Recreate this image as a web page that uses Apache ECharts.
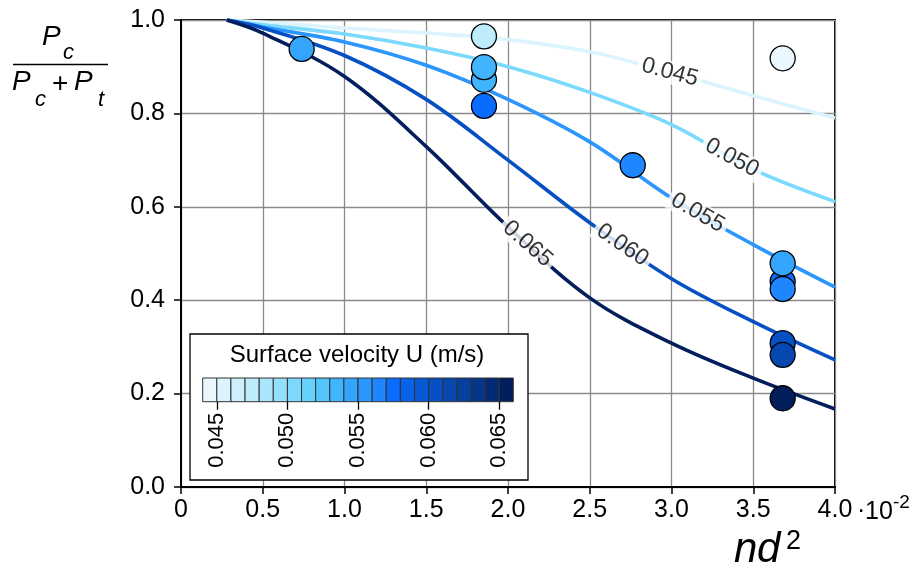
<!DOCTYPE html>
<html><head><meta charset="utf-8">
<script src="https://cdn.jsdelivr.net/npm/echarts@6/dist/echarts.min.js"></script>
<style>html,body{margin:0;padding:0;background:#fff}#c{width:924px;height:570px}</style>
</head><body><div id="c"></div>
<script>
// ---------- data ----------
const curveX   = [0.28, 0.5, 1.0, 1.5, 2.0, 2.5, 3.0, 3.5, 4.0];
const levels    = [0.045, 0.050, 0.055, 0.060, 0.065];
const levelText = ['0.045', '0.050', '0.055', '0.060', '0.065'];
const curve045 = [1.0, 0.995, 0.983, 0.972, 0.958, 0.932, 0.887, 0.838, 0.790];
const curve050 = [1.0, 0.990, 0.970, 0.940, 0.900, 0.845, 0.776, 0.680, 0.611];
const curve055 = [1.0, 0.985, 0.953, 0.903, 0.830, 0.739, 0.619, 0.519, 0.428];
const curve060 = [1.0, 0.983, 0.924, 0.830, 0.700, 0.566, 0.446, 0.354, 0.272];
const curve065 = [1.0, 0.972, 0.879, 0.729, 0.557, 0.405, 0.308, 0.233, 0.167];
const labelX   = [2.99, 3.37, 3.16, 2.70, 2.12];

const pointX = [0.738, 1.853, 1.853, 1.853, 1.853, 2.763, 3.68, 3.68, 3.68, 3.68, 3.68, 3.68, 3.68];
const pointY = [0.938, 0.965, 0.872, 0.899, 0.816, 0.689, 0.918, 0.440, 0.479, 0.424, 0.308, 0.283, 0.190];
const pointU = [0.0545, 0.0475, 0.0535, 0.0535, 0.0575, 0.0565, 0.0445, 0.0575, 0.0545, 0.0565, 0.0605, 0.0615, 0.0655];

const uStart = 0.044, uStep = 0.001;
const cellColors = ['#eaf8fe','#dcf4fd','#cdf0fc','#bdecfc','#a9e6fc','#93e0fc','#7ad9fc','#66d1fd',
  '#53c5fd','#40b5fd','#34a5fd','#2a96fe','#1e86fe','#0a6cff','#0a62e8','#0858d4','#0650c4',
  '#0648b0','#053fa0','#04368c','#032a74','#021e5c'];
const barTicks = [0.045, 0.050, 0.055, 0.060, 0.065];

// ---------- helpers ----------
const curves = [curve045, curve050, curve055, curve060, curve065];
const FONT = "'Liberation Sans', Arial, Helvetica, sans-serif";
function colorOf(u) {
  let i = Math.floor((u - uStart) / uStep + 1e-6);
  return cellColors[Math.max(0, Math.min(cellColors.length - 1, i))];
}
function interp(ys, x) {
  for (let i = 0; i < curveX.length - 1; i++) {
    if (x >= curveX[i] && x <= curveX[i + 1]) {
      const t = (x - curveX[i]) / (curveX[i + 1] - curveX[i]);
      return ys[i] + t * (ys[i + 1] - ys[i]);
    }
  }
  return ys[ys.length - 1];
}

const chart = echarts.init(document.getElementById('c'), null, {renderer: 'canvas'});

const lineSeries = curves.map((ys, k) => ({
  type: 'line', xAxisIndex: 0, yAxisIndex: 0,
  data: curveX.map((x, i) => [x, ys[i]]),
  smooth: 0.35, symbol: 'none',
  lineStyle: {color: colorOf(levels[k]), width: 3.6},
  z: 2, silent: true
}));

function labelData(angles) {
  return levels.map((lv, i) => ({
    value: [labelX[i], interp(curves[i], labelX[i])],
    label: {formatter: levelText[i], rotate: angles ? angles[i] : 0}
  }));
}

const txt = (x, y, text, font) => ({type: 'text', x: x, y: y, z: 11,
  style: {text: text, font: font, fill: '#000', textVerticalAlign: 'middle', verticalAlign: 'middle'}});

const option = {
  animation: false,
  textStyle: {fontFamily: FONT},
  grid: [
    {left: 181, top: 20, right: 89, bottom: 83, show: true, borderColor: '#000', borderWidth: 2, backgroundColor: 'transparent'},
    {left: 202.7, top: 378, width: 310.6, height: 23.7}
  ],
  xAxis: [
    {gridIndex: 0, type: 'value', min: 0, max: 4, interval: 0.5,
     axisLine: {show: true, lineStyle: {color: '#000', width: 2}},
     axisTick: {show: true, length: 7, lineStyle: {color: '#000', width: 1.5}},
     axisLabel: {fontSize: 25, color: '#000', margin: 11, fontFamily: FONT,
                 formatter: v => v === 0 ? '0' : v.toFixed(1)},
     splitLine: {show: true, lineStyle: {color: '#8a8a8a', width: 1.3}}},
    {gridIndex: 1, type: 'value', min: 0.044, max: 0.066, z: 10,
     axisLine: {show: false},
     axisTick: {show: true, length: 8, customValues: barTicks, lineStyle: {color: '#000', width: 1.3}},
     axisLabel: {show: true, customValues: barTicks, rotate: 90, fontSize: 22, color: '#000', margin: 11,
                 fontFamily: FONT, formatter: v => v.toFixed(3)},
     splitLine: {show: false}}
  ],
  yAxis: [
    {gridIndex: 0, type: 'value', min: 0, max: 1, interval: 0.2,
     axisLine: {show: true, lineStyle: {color: '#000', width: 2}},
     axisTick: {show: true, length: 7, lineStyle: {color: '#000', width: 1.5}},
     axisLabel: {fontSize: 25, color: '#000', margin: 16, fontFamily: FONT, formatter: v => v.toFixed(1)},
     splitLine: {show: true, lineStyle: {color: '#8a8a8a', width: 1.3}}},
    {gridIndex: 1, type: 'value', min: 0, max: 1, show: false}
  ],
  series: [
    ...lineSeries,
    {type: 'scatter', xAxisIndex: 0, yAxisIndex: 0, z: 3, silent: true,
     symbol: 'circle', symbolSize: 1, itemStyle: {color: 'rgba(0,0,0,0)'},
     label: {show: true, position: 'inside', fontSize: 23, color: '#000', fontFamily: FONT,
             backgroundColor: '#fff', padding: [0, 4]},
     data: labelData(null)},
    {type: 'scatter', xAxisIndex: 0, yAxisIndex: 0, z: 4, symbolSize: 25,
     data: pointX.map((x, i) => ({value: [x, pointY[i]], itemStyle: {color: colorOf(pointU[i])}})),
     itemStyle: {borderColor: '#000', borderWidth: 1.3, opacity: 1}},
    {type: 'custom', xAxisIndex: 1, yAxisIndex: 1, z: 10, silent: true,
     data: cellColors.map((c, i) => [uStart + i * uStep, 0]),
     renderItem: function (params, api) {
       const u0 = api.value(0);
       const p0 = api.coord([u0, 0]);
       const p1 = api.coord([u0 + uStep, 1]);
       return {type: 'rect',
         shape: {x: p0[0], y: p1[1], width: p1[0] - p0[0], height: p0[1] - p1[1]},
         style: {fill: cellColors[params.dataIndex], stroke: '#333', lineWidth: 1}};
     }}
  ],
  graphic: [
    {type: 'rect', z: 5, shape: {x: 190, y: 334, width: 338, height: 146},
     style: {fill: '#fff', stroke: '#000', lineWidth: 1.3}},
    {type: 'text', z: 11, x: 357, y: 355,
     style: {text: 'Surface velocity U (m/s)', font: '24px ' + FONT, fill: '#000',
             textAlign: 'center', textVerticalAlign: 'middle', align: 'center', verticalAlign: 'middle'}},
    // y-axis title: Pc / (Pc + Pt)
    txt(42, 37, 'P', 'italic 28px ' + FONT),
    txt(63, 53, 'c', 'italic 22px ' + FONT),
    {type: 'line', shape: {x1: 13, y1: 64.5, x2: 108, y2: 64.5}, style: {stroke: '#000', lineWidth: 1.5}},
    txt(12, 82, 'P', 'italic 28px ' + FONT),
    txt(35, 100, 'c', 'italic 22px ' + FONT),
    txt(52, 84, '+', '28px ' + FONT),
    txt(74, 82, 'P', 'italic 28px ' + FONT),
    txt(98, 100, 't', 'italic 22px ' + FONT),
    // x-axis title nd^2
    txt(734, 550, 'n', 'italic 42px ' + FONT),
    txt(757, 550, 'd', 'italic 42px ' + FONT),
    txt(786, 542, '2', '27px ' + FONT),
    // ·10^-2
    txt(857, 511, '\u00B7', '25px ' + FONT),
    txt(865, 512, '10', '25px ' + FONT),
    txt(893, 503, '-2', '19px ' + FONT)
  ]
};

chart.setOption(option);

// rotate contour labels along the local slope of each curve (computed via the axes)
const angles = levels.map((lv, i) => {
  const x = labelX[i], d = 0.12;
  const a = chart.convertToPixel({gridIndex: 0}, [x - d, interp(curves[i], x - d)]);
  const b = chart.convertToPixel({gridIndex: 0}, [x + d, interp(curves[i], x + d)]);
  return -Math.atan2(b[1] - a[1], b[0] - a[0]) * 180 / Math.PI;
});
const s = option.series.slice();
s[5] = Object.assign({}, s[5], {data: labelData(angles)});
chart.setOption({series: s});
</script>
</body></html>
